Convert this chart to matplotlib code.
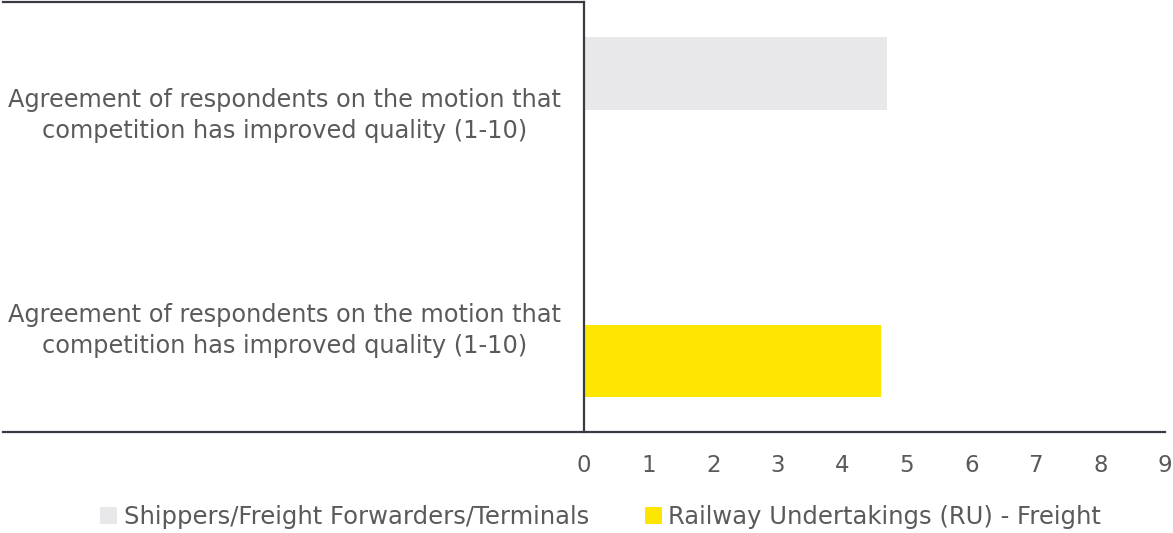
import numpy as np
import matplotlib.pyplot as plt

label = 'Agreement of respondents on the motion that\ncompetition has improved quality (1-10)'
categories = [label, label]
series_names = ['Shippers/Freight Forwarders/Terminals', 'Railway Undertakings (RU) - Freight']
shippers = [4.69, np.nan]
railway = [np.nan, 4.60]
x_ticks = list(range(0, 10))

grey = '#e8e8ea'
yellow = '#ffe600'
dark = '#3a3a44'
text_col = '#5a5a5a'

fig = plt.figure(figsize=(11.73, 5.33), dpi=100)
ax = fig.add_axes([0.4979, 0.1895, 0.4953, 0.8067])

y = np.arange(len(categories))
h = 0.335
ax.barh(y - h / 2, shippers, height=h, color=grey, label=series_names[0])
ax.barh(y + h / 2, railway, height=h, color=yellow, label=series_names[1])

ax.set_ylim(1.5, -0.5)
ax.set_xlim(0, 9)
ax.set_xticks(x_ticks)
ax.set_yticks(y)
ax.set_yticklabels(categories, ha='center', multialignment='center',
                   linespacing=1.35)
ax.tick_params(axis='y', length=0, pad=0)
ax.tick_params(axis='x', length=0, pad=16)
for t in ax.get_yticklabels():
    t.set_x(-0.515)
    t.set_fontsize(17.3)
for t in ax.get_xticklabels():
    t.set_fontsize(16.5)
for t in ax.get_xticklabels() + ax.get_yticklabels():
    t.set_color(text_col)

for s in ['top', 'right', 'bottom']:
    ax.spines[s].set_visible(False)
ax.spines['left'].set_color(dark)
ax.spines['left'].set_linewidth(1.6)

# category separators running under the labels
ax.axhline(1.5, xmin=-1.0, xmax=1.0, color=dark, lw=1.6, clip_on=False)
ax.axhline(-0.5, xmin=-1.0, xmax=0.0, color=dark, lw=1.6, clip_on=False)

leg = fig.legend(loc='center', bbox_to_anchor=(0.512, 0.03), ncol=2, frameon=False,
                 handlelength=0.7, handleheight=0.7, handletextpad=0.25,
                 columnspacing=2.3, fontsize=17.5)
for t in leg.get_texts():
    t.set_color(text_col)

fig.savefig('out.png', dpi=100)
